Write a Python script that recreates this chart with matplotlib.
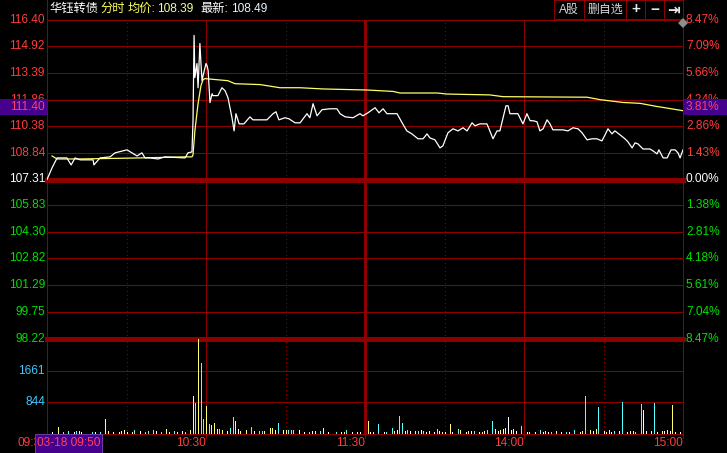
import matplotlib
matplotlib.use('Agg')
import matplotlib.pyplot as plt
import matplotlib.transforms as mtrans
from matplotlib.patches import Rectangle
from matplotlib.lines import Line2D

plt.rcParams['font.family'] = ['Liberation Sans', 'Noto Sans CJK SC', 'DejaVu Sans']

# ---------------- data ----------------
price_t = [0.0, 1.9, 3.8, 7.5, 9.1, 10.6, 12.5, 17.4, 17.7, 20.0,
           23.8, 25.7, 30.2, 34.0, 35.8, 37.0, 38.9, 41.9, 44.5, 52.1,
           53.2, 54.7, 55.1, 55.5, 55.8, 56.6, 57.0, 57.7, 58.1, 58.5,
           58.9, 60.0, 60.4, 60.8, 61.5, 62.3, 62.6, 64.5, 66.0, 67.2,
           68.3, 69.8, 70.6, 71.3, 72.5, 74.3, 76.6, 77.7, 83.0, 85.3,
           86.4, 87.5, 89.8, 91.3, 93.6, 95.5, 98.1, 99.2, 100.4, 101.9,
           103.8, 106.8, 109.4, 110.6, 112.5, 115.5, 118.1, 119.2, 121.1, 123.8,
           125.3, 126.8, 128.3, 132.1, 134.0, 135.8, 137.7, 140.0, 141.9, 143.4,
           144.5, 146.4, 148.3, 149.4, 151.3, 153.2, 155.1, 157.0, 158.5, 160.4,
           161.5, 163.4, 166.0, 166.8, 168.3, 169.8, 170.9, 172.1, 173.2, 174.0,
           174.7, 175.8, 177.7, 179.6, 181.1, 182.3, 183.4, 184.9, 186.0, 187.2,
           188.7, 189.8, 190.9, 194.7, 196.6, 198.5, 200.4, 201.9, 203.8, 205.7,
           207.5, 209.4, 210.6, 211.7, 213.2, 214.3, 216.2, 218.1, 219.2, 220.8,
           221.9, 223.0, 224.9, 227.5, 228.7, 230.2, 230.9, 232.5, 234.0, 235.5,
           237.0, 238.1, 238.9, 240.0]
price_p = [107.31, 107.97, 108.54, 108.54, 108.14, 108.54, 108.43, 108.43, 108.14, 108.54,
           108.60, 108.83, 109.00, 108.65, 108.83, 108.54, 108.54, 108.48, 108.60, 108.54,
           108.83, 108.88, 110.66, 115.52, 113.12, 113.92, 112.54, 115.06, 113.92, 112.94,
           113.23, 113.92, 113.80, 113.52, 111.69, 112.20, 112.09, 112.09, 112.54, 112.37,
           111.97, 110.83, 110.08, 111.06, 110.48, 110.48, 110.88, 110.71, 110.71, 111.06,
           111.17, 110.71, 110.83, 110.77, 110.54, 110.54, 111.06, 110.83, 111.63, 110.94,
           111.29, 111.34, 111.34, 111.06, 110.88, 110.83, 111.06, 110.94, 111.11, 111.40,
           111.11, 111.34, 111.06, 111.06, 110.54, 110.08, 109.91, 109.63, 109.63, 109.91,
           109.68, 109.57, 109.11, 109.23, 109.97, 110.20, 110.08, 110.26, 110.08, 110.54,
           110.37, 110.48, 110.48, 110.20, 109.63, 110.08, 110.08, 110.83, 111.51, 111.51,
           111.06, 111.06, 111.06, 110.48, 111.06, 110.66, 110.66, 110.60, 110.08, 110.20,
           110.71, 110.48, 110.14, 110.14, 110.08, 110.26, 110.20, 109.97, 109.57, 109.63,
           109.63, 109.51, 109.86, 110.20, 109.91, 110.08, 109.86, 109.63, 109.46, 109.11,
           109.40, 109.34, 109.05, 109.05, 108.94, 108.77, 109.00, 108.54, 108.54, 109.00,
           109.00, 108.83, 108.54, 109.00]

avg_t = [1.9, 3.8, 12.5, 35.1, 52.1, 54.7, 55.1, 55.8, 57.0, 58.1, 58.9, 59.6,
         68.3, 70.9, 80.4, 87.9, 95.5, 104.2, 120.8, 130.6, 133.2, 147.2, 150.9,
         167.2, 172.1, 203.8, 208.7, 217.4, 223.8, 230.2, 234.0, 240.0]
avg_p = [108.65, 108.48, 108.48, 108.54, 108.60, 108.60, 108.71, 110.08, 111.63, 112.66, 113.00, 113.06,
         112.94, 112.77, 112.72, 112.54, 112.54, 112.47, 112.41, 112.33, 112.24, 112.24, 112.18,
         112.13, 112.03, 112.00, 111.86, 111.70, 111.65, 111.47, 111.38, 111.23]

vol_t = [2, 4, 6, 8, 10, 11, 12, 13, 17, 18, 20, 22, 23, 25, 27, 28, 29, 30, 32, 33,
         35, 37, 38, 40, 41, 43, 45, 46, 48, 49, 51, 52, 54,
         55, 56, 57, 58, 59, 60, 61, 62, 63, 64, 65, 66, 68, 69, 70, 71, 72, 73, 75, 77,
         78, 80, 81, 82, 84, 85, 86, 87, 89, 90, 91, 92, 93, 95, 97, 99, 100, 101, 103, 104,
         106, 109, 111, 112, 113, 115, 117, 118,
         121, 122, 123, 125, 127, 128, 130, 131, 132, 133, 134, 135, 136, 137, 139, 140, 141, 142, 143, 144,
         146, 147, 148, 149, 150, 152, 153, 155, 156, 158, 159, 160, 161, 163, 164, 165, 166, 168, 169, 170,
         171, 172, 173, 174, 175, 176, 177, 179, 181, 182, 184, 186, 187, 188, 189, 190, 192, 194, 196, 197,
         199, 201, 202, 203, 205, 206, 207, 208, 210, 211, 212, 213, 214, 216, 217, 219, 220, 221, 222, 224,
         225, 226, 228, 229, 230, 232, 233, 234, 235, 236, 237, 239, 240]
vol_v = [53, 185, 53, 79, 53, 79, 79, 53, 53, 53, 53, 396, 79, 53, 53, 79, 106, 53, 53, 106,
         79, 53, 79, 106, 79, 53, 132, 53, 79, 53, 79, 53, 106,
         1003, 818, 2480, 1848, 396, 739, 264, 238, 290, 132, 132, 106, 79, 158, 449, 343, 132, 79, 106, 185,
         79, 79, 79, 79, 158, 158, 106, 290, 106, 106, 106, 106, 106, 106, 53, 53, 79, 79, 79, 158,
         53, 53, 53, 53, 106, 53, 53, 53,
         343, 53, 53, 264, 53, 53, 158, 79, 106, 475, 290, 79, 106, 79, 79, 79, 106, 79, 53, 79,
         53, 132, 79, 53, 53, 264, 53, 132, 106, 53, 79, 79, 79, 53, 53, 79, 106, 343, 132, 79,
         106, 132, 158, 449, 106, 132, 79, 211, 53, 53, 53, 106, 53, 79, 53, 53, 79, 53, 53, 53,
         106, 53, 79, 1003, 106, 79, 132, 713, 79, 53, 106, 53, 79, 79, 844, 53, 79, 79, 53, 792,
         634, 79, 79, 818, 53, 79, 79, 106, 79, 766, 53, 53, 79]
vol_dir = ("fuddfdufdfduufuuufudfdddfdufdufdu"
           "ududduduuu" "dufddufuud" "fdduuufdfu" "dddffdfudu" "fdfudfuf"
           "ufudfddufd" "dfdfudfdfu" "fdfufufduf" "ufdfufdduf" "ufuffufdfu"
           "fdfufdufdf" "dfudufudfu" "ufdfdfuudd" "ffudfufufu" "ffu")

price_ticks = [116.40, 114.92, 113.39, 111.86, 110.38, 108.84, 107.31,
               105.83, 104.30, 102.82, 101.29, 99.75, 98.22]
price_labels = ['116.40', '114.92', '113.39', '111.86', '110.38', '108.84', '107.31',
                '105.83', '104.30', '102.82', '101.29', '99.75', '98.22']
pct_labels = ['8.47%', '7.09%', '5.66%', '4.24%', '2.86%', '1.43%', '0.00%',
              '1.38%', '2.81%', '4.18%', '5.61%', '7.04%', '8.47%']
vol_ticks = [1661, 844]
vol_labels = ['1661', '844']
time_pos = [0, 60, 120, 180, 240]
time_labels = ['09:30', '10:30', '11:30', '14:00', '15:00']
pre_close = 107.31
cursor_price = '111.40'
cursor_pct = '3.81%'
cursor_time = '03-18 09:50'
name = '华钰转债'
avg_last = '108.39'
last_price = '108.49'

# ---------------- style ----------------
W, H = 727, 453
GRID = '#8c0000'
RED = '#ff3c3c'
GREEN = '#00e000'
CYAN = '#40c8ff'
UPC = '#ffff70'
DNC = '#54ffff'
FLC = '#ffffff'
PURPLE = '#45008c'
FS = 8.6
PX = 0.72  # one pixel in points


def fx(px):
    return px / W


def fy(py):
    return 1 - py / H


fig = plt.figure(figsize=(W / 100, H / 100), dpi=100, facecolor='black')
ax = fig.add_axes([fx(47), fy(339), fx(683) - fx(47), fy(20) - fy(339)])
axv = fig.add_axes([fx(47), fy(434), fx(683) - fx(47), fy(339) - fy(434)])
for a in (ax, axv):
    a.set_facecolor('black')
    a.set_axis_off()
    a.set_xlim(0, 240)
ax.set_ylim(98.22, 116.40)
axv.set_ylim(0, 2490)

# horizontal grid (price)
for v in price_ticks:
    thick = v in (pre_close, 98.22)
    ax.axhline(v, color=GRID, lw=2.2 if thick else PX, antialiased=False,
               clip_on=False, zorder=1)
# horizontal grid (volume)
for v in vol_ticks:
    axv.axhline(v, color=GRID, lw=PX, antialiased=False, zorder=1)
axv.axhline(0, color=GRID, lw=PX, antialiased=False, clip_on=False, zorder=1)

# vertical grid
for a in (ax, axv):
    for m in (60, 180):
        a.axvline(m, color=GRID, lw=PX, antialiased=False, zorder=1)
    a.axvline(120, color=GRID, lw=2.0, antialiased=False, zorder=1)
    for m in (30, 90, 150, 210):
        a.axvline(m, color=GRID, lw=PX, ls=(0, (1, 3)), antialiased=False, zorder=1)
    for m in (0, 240):
        a.axvline(m, color=GRID, lw=PX, antialiased=False, clip_on=False, zorder=1)

# left border above the chart
fig.add_artist(Line2D([fx(47), fx(47)], [fy(20), fy(0)], color=GRID, lw=PX, antialiased=False))

# tick marks under the time axis
tick_tr = mtrans.blended_transform_factory(axv.transData, fig.transFigure)
for m in time_pos[1:]:
    fig.add_artist(Line2D([m, m], [fy(434), fy(438)], transform=tick_tr,
                          color=GRID, lw=PX, antialiased=False))

# lines
ax.plot(avg_t, avg_p, color='#ffff66', lw=0.9, zorder=3)
ax.plot(price_t, price_p, color='white', lw=0.9, zorder=4)

# volume bars
cmap = {'u': UPC, 'd': DNC, 'f': FLC}
axv.vlines(vol_t, 0, vol_v, colors=[cmap[c] for c in vol_dir], lw=0.55,
           antialiased=False, zorder=3)

# axis labels
ltr = mtrans.blended_transform_factory(fig.transFigure, ax.transData)
for v, lab, pct in zip(price_ticks, price_labels, pct_labels):
    if v > pre_close:
        col = RED
    elif v < pre_close:
        col = GREEN
    else:
        col = 'white'
    fig.text(fx(45), v, lab, transform=ltr, ha='right', va='center',
             color=col, fontsize=FS, zorder=2)
    fig.text(fx(686), v, pct, transform=ltr, ha='left', va='center',
             color=col, fontsize=FS, zorder=2)
vtr = mtrans.blended_transform_factory(fig.transFigure, axv.transData)
for v, lab in zip(vol_ticks, vol_labels):
    fig.text(fx(45), v, lab, transform=vtr, ha='right', va='center',
             color=CYAN, fontsize=FS, zorder=2)

for m, lab in zip(time_pos, time_labels):
    fig.text(m, fy(443), lab, transform=tick_tr, ha='right', va='center',
             color=RED, fontsize=FS, zorder=2)

# cursor boxes (cover the labels underneath, as in the reference)
fig.add_artist(Rectangle((0, fy(115)), fx(47), fy(99) - fy(115), transform=fig.transFigure,
                         facecolor=PURPLE, edgecolor='none', zorder=5))
fig.add_artist(Rectangle((fx(684), fy(115)), 1 - fx(684), fy(99) - fy(115), transform=fig.transFigure,
                         facecolor=PURPLE, edgecolor='none', zorder=5))
fig.text(fx(45), fy(107), cursor_price, ha='right', va='center', color='#ff4060',
         fontsize=FS, zorder=6)
fig.text(fx(686), fy(107), cursor_pct, ha='left', va='center', color='#ff4060',
         fontsize=FS, zorder=6)
fig.add_artist(Rectangle((fx(35), fy(453)), fx(102) - fx(35), fy(434) - fy(453),
                         transform=fig.transFigure, facecolor=PURPLE, edgecolor='#6a3aa0',
                         lw=PX, zorder=5))
fig.text(fx(68.5), fy(443), cursor_time, ha='center', va='center', color='#ff4060',
         fontsize=FS, zorder=6)

# diamond marker top-right
fig.add_artist(Line2D([fx(683)], [fy(23)], marker='D', ms=5, color='#8c8c8c',
                      markeredgewidth=0, zorder=6))

# header
hy = fy(9)
fig.text(fx(49), hy, name, color='white', fontsize=8.8, va='center')
fig.text(fx(100), hy, '分时', color='#ffff60', fontsize=8.8, va='center')
fig.text(fx(128), hy, '均价:', color='#ffff60', fontsize=8.8, va='center')
fig.text(fx(157), hy, avg_last, color='#f0ffa0', fontsize=FS, va='center')
fig.text(fx(200), hy, '最新:', color='white', fontsize=8.8, va='center')
fig.text(fx(231), hy, last_price, color='#e6f4ff', fontsize=FS, va='center')

# buttons
edges = [554, 584, 626, 645, 664, 683]
btns = ['A股', '删自选', '+', '−', '⇥']
fig.add_artist(Rectangle((fx(554), fy(19)), fx(683) - fx(554), fy(0) - fy(19),
                         transform=fig.transFigure, fill=False, edgecolor=GRID, lw=PX,
                         antialiased=False))
for e in edges[1:-1]:
    fig.add_artist(Line2D([fx(e), fx(e)], [fy(19), fy(0)], color=GRID, lw=PX, antialiased=False))
for i, b in enumerate(btns):
    xc = (edges[i] + edges[i + 1]) / 2
    bold = b in ('+', '−', '⇥')
    fig.text(fx(xc), fy(9.5), b, ha='center', va='center',
             color='#e8e8e8' if bold else '#d8d8d8',
             fontsize=11 if bold else 8.6, fontweight='bold' if bold else 'normal',
             family=['DejaVu Sans'] if b == '⇥' else ['Liberation Sans', 'Noto Sans CJK SC', 'DejaVu Sans'])

fig.savefig('out.png', dpi=100, facecolor='black')
